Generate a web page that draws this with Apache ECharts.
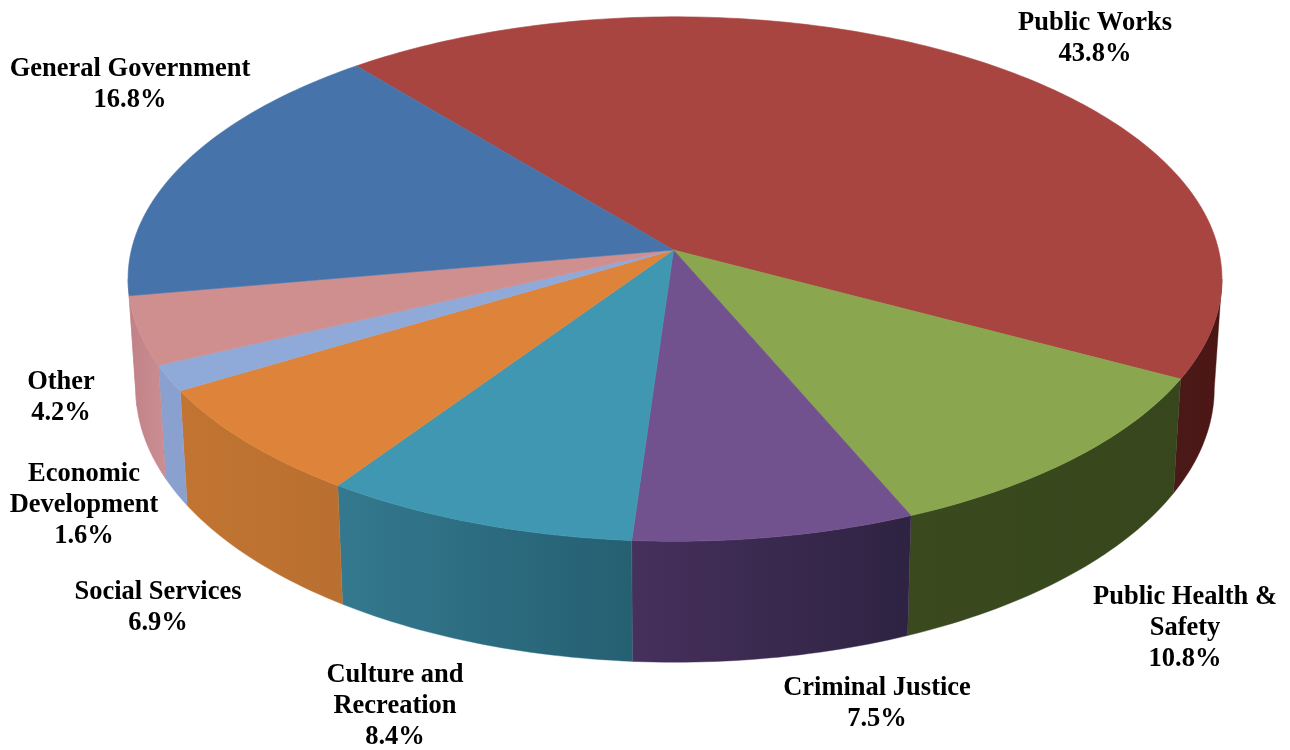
<!DOCTYPE html>
<html>
<head>
<meta charset="utf-8">
<style>html,body{margin:0;padding:0;background:#fff}#chart{width:1290px;height:750px}</style>
<script src="https://cdn.jsdelivr.net/npm/echarts@6/dist/echarts.min.js"></script>
</head>
<body>
<div id="chart"></div>
<script>
// Data, in drawing order (clockwise from the Public Works slice)
const categories = ['Public Works', 'Public Health &\nSafety', 'Criminal Justice', 'Culture and\nRecreation',
  'Social Services', 'Economic\nDevelopment', 'Other', 'General Government'];
const shares = [43.8, 10.8, 7.5, 8.4, 6.9, 1.6, 4.2, 16.8];

// Styling
const topColors = ['#a94541', '#8aa64e', '#71528f', '#3f97b1', '#de843a', '#8faad8', '#cf8f8f', '#4673aa'];
const sideColors = [
  ['#4a1a18', '#4c1514'], ['#3a4a1e', '#37461c'], ['#46305c', '#2e2342'], ['#34798f', '#255f72'],
  ['#c27532', '#b96f30'], ['#8aa0cf', '#8aa0cf'], ['#c08286', '#cb8e92'], ['#c08286', '#c08286']
];
// Label centres, same order as categories
const labelX = [1095, 1185, 877, 395, 158, 84, 61, 130];
const labelY = [39, 628, 704, 706, 608, 505, 398, 85];

// Projection of the tilted disc
const startAngle = -39.5, cx = 675, apexX = 673.5, cy = 250, A = 543.6, B = 259, K = -0.1107;
const visibleFrom = 96.36, visibleTo = 263.64; // silhouette tangents of the side wall
const total = shares.reduce((a, b) => a + b, 0);
const edges = [startAngle];
shares.forEach(s => edges.push(edges[edges.length - 1] + s / total * 360));

function rim(deg) {
  const t = deg * Math.PI / 180, u = Math.sin(t), v = -Math.cos(t), d = 1 + K * v;
  return { x: cx + A * u / d, y: cy + B * v / d, v: v };
}
function arc(a, b) {
  const out = [], n = Math.max(2, Math.ceil(b - a));
  for (let k = 0; k <= n; k++) out.push(rim(a + (b - a) * k / n));
  return out;
}
function lower(p) {
  return [cx + (p.x - cx) * 0.986, p.y + 108 + 13 * p.v];
}

const indexData = shares.map((s, i) => [i, s]);
const chart = echarts.init(document.getElementById('chart'), null, { renderer: 'canvas' });
chart.setOption({
  animation: false,
  backgroundColor: '#ffffff',
  tooltip: { show: false },
  series: [
    {
      type: 'custom', coordinateSystem: 'none', silent: true, z: 1, data: indexData,
      renderItem(params, api) {
        const i = api.value(0);
        const a = Math.max(edges[i], visibleFrom), b = Math.min(edges[i + 1], visibleTo);
        if (b <= a) return null;
        const pts = arc(a, b);
        const poly = pts.map(p => [p.x, p.y]).concat(pts.slice().reverse().map(lower));
        return {
          type: 'polygon', shape: { points: poly },
          style: {
            fill: new echarts.graphic.LinearGradient(0, 0, 1, 0, [
              { offset: 0, color: sideColors[i][0] }, { offset: 1, color: sideColors[i][1] }]),
            stroke: sideColors[i][0], lineWidth: 0.4
          }
        };
      }
    },
    {
      type: 'custom', coordinateSystem: 'none', silent: true, z: 2, data: indexData,
      renderItem(params, api) {
        const i = api.value(0);
        const poly = [[apexX, cy]].concat(arc(edges[i], edges[i + 1]).map(p => [p.x, p.y]));
        return {
          type: 'polygon', shape: { points: poly },
          style: { fill: topColors[i], stroke: topColors[i], lineWidth: 0.6 }
        };
      }
    },
    {
      type: 'custom', coordinateSystem: 'none', silent: true, z: 3, data: indexData,
      renderItem(params, api) {
        const i = api.value(0);
        return {
          type: 'text', x: labelX[i], y: labelY[i],
          style: {
            text: categories[i] + '\n' + api.value(1).toFixed(1) + '%',
            font: 'bold 26.5px "Liberation Serif"', lineHeight: 31,
            fill: '#000000', align: 'center', verticalAlign: 'middle'
          }
        };
      }
    }
  ]
});
</script>
</body>
</html>
